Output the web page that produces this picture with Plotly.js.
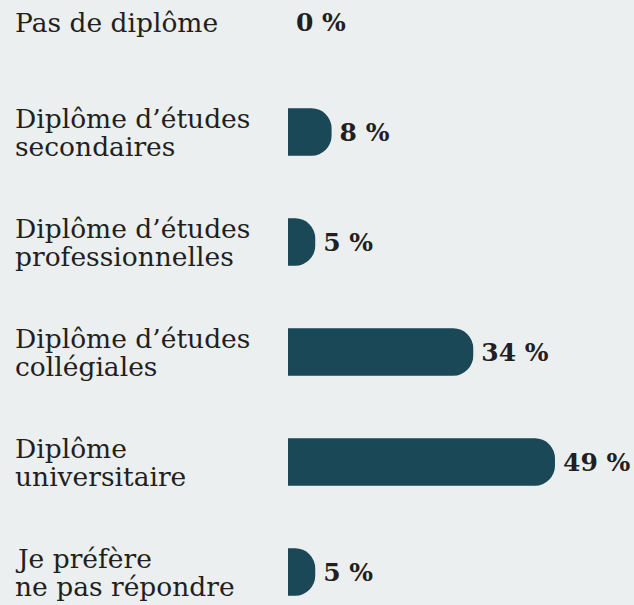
<!DOCTYPE html>
<html>
<head>
<meta charset="utf-8">
<script src="https://cdn.plot.ly/plotly-3.0.1.min.js"></script>
<style>html,body{margin:0;padding:0;background:#ebeff0;}#chart{width:634px;height:605px;}</style>
</head>
<body>
<div id="chart"></div>
<script>
// ---- data ----
const categories = [
  "Pas de diplôme",
  "Diplôme d’études<br>secondaires",
  "Diplôme d’études<br>professionnelles",
  "Diplôme d’études<br>collégiales",
  "Diplôme<br>universitaire",
  "Je préfère<br>ne pas répondre"
];
const values = [0, 8, 5, 34, 49, 5];
const valueLabels = ["0 %", "8 %", "5 %", "34 %", "49 %", "5 %"];

// ---- style ----
const BAR = "#1a4856";
const TEXT = "#231f20";
const BG = "#ebeff0";
const hiddenLeft = 4; // part of each bar hidden left of the axis so only right corners look rounded

const trace = {
  type: "bar",
  orientation: "h",
  y: categories,
  x: values.map(v => v + hiddenLeft),
  base: values.map(() => -hiddenLeft),
  width: 0.43,
  marker: {color: BAR, cornerradius: 20},
  text: valueLabels,
  texttemplate: "\u2009%{text}",
  textposition: "outside",
  textfont: {family: "DejaVu Serif", size: 25, color: TEXT, weight: "bold"},
  constraintext: "none",
  cliponaxis: false,
  hoverinfo: "skip"
};

const lineGap = 28;
const annotations = [];
categories.forEach(c => {
  const lines = c.split("<br>");
  lines.forEach((ln, j) => {
    annotations.push({
      xref: "paper", yref: "y",
      x: 14 / 634, y: c,
      xanchor: "left", yanchor: "middle",
      text: ln, showarrow: false, align: "left", borderpad: 0,
      yshift: ((lines.length - 1) / 2 - j) * lineGap,
      font: {family: "DejaVu Serif", size: 26.5, color: TEXT}
    });
  });
});

const layout = {
  width: 634, height: 605,
  margin: {l: 0, r: 0, t: 0, b: 0},
  paper_bgcolor: BG, plot_bgcolor: BG,
  showlegend: false,
  xaxis: {domain: [288 / 634, 1], range: [0, 63.5], showgrid: false, zeroline: false, showticklabels: false, fixedrange: true},
  yaxis: {type: "category", categoryarray: categories, range: [5.3, -0.2], showgrid: false, zeroline: false, showticklabels: false, fixedrange: true},
  annotations: annotations
};

Plotly.newPlot("chart", [trace], layout, {displayModeBar: false, staticPlot: true});
</script>
</body>
</html>
